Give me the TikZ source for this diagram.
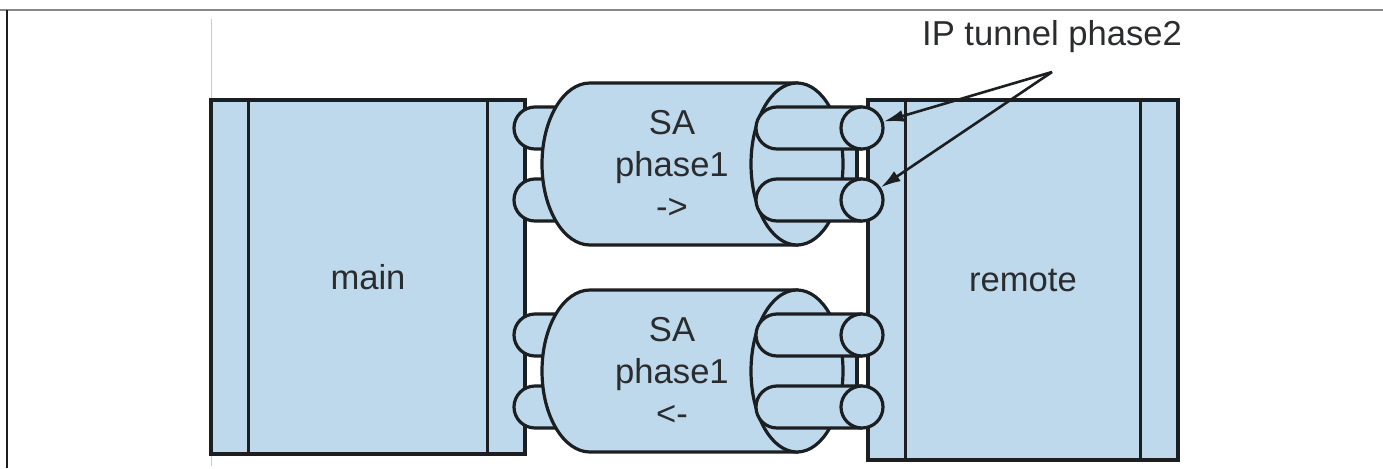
\documentclass[tikz,border=0pt]{standalone}
\usepackage{fontspec}
\setmainfont{Liberation Sans}
\usetikzlibrary{arrows.meta,positioning}
\definecolor{Ink}{HTML}{1B1F22}
\definecolor{Pale}{HTML}{BFD9EC}
\definecolor{Rule}{HTML}{888888}
\definecolor{Faint}{HTML}{CCCCCC}
\definecolor{Words}{HTML}{2A2C2E}
\tikzset{host/.style={draw=Ink,fill=Pale,line width=1.6pt,inner sep=0pt,text=Words,font=\fontsize{17.3}{21}\selectfont},shell/.style={draw=Ink,fill=Pale,line width=1.6pt},strip/.style={draw=Ink,line width=1.6pt},pipeend/.style={circle,draw=Ink,fill=Pale,line width=1.6pt,minimum size=21pt,inner sep=0pt},txt/.style={text=Words,font=\fontsize{17.3}{21}\selectfont,inner sep=1pt},frame/.style={draw=Rule,line width=1pt},guide/.style={draw=Faint,line width=.5pt},pointer/.style={-{Latex[length=10pt,width=6pt]},line width=1.3pt,draw=Ink}}
\begin{document}
\begin{tikzpicture}[x=0.5pt,y=0.5pt]
  \useasboundingbox (0,0) rectangle (1383,468);
  % page rules
  \draw[frame] (0,458) -- (1383,458);
  \draw[frame,draw=Ink] (7,458) -- (7,0);
  \draw[guide] (211,449) -- (211,2);
  % hosts
  \node[host,minimum width=157pt,minimum height=177pt](main) at (368,191){main};
  \node[host,minimum width=155pt,minimum height=180pt](remote) at (1023,188){remote};
  \draw[strip]([xshift=19.5pt]main.north west)--([xshift=19.5pt]main.south west);
  \draw[strip]([xshift=-19.5pt]main.north east)--([xshift=-19.5pt]main.south east);
  \draw[strip]([xshift=19.5pt]remote.north west)--([xshift=19.5pt]remote.south west);
  \draw[strip]([xshift=-19.5pt]remote.north east)--([xshift=-19.5pt]remote.south east);
  % SA tunnels with two IP pipes each
  \foreach \cy/\dir/\nm in {304/{->}/up,97/{<-}/dn}{
    \foreach \p in {36,-36}
      \filldraw[shell](600,\cy+\p+21)--(535,\cy+\p+21) arc[start angle=90,end angle=270,radius=21]--(600,\cy+\p-21);
    \filldraw[shell](797,\cy+81)--(590,\cy+81) arc[start angle=90,end angle=270,x radius=48,y radius=81]--(797,\cy-81)--cycle;
    \filldraw[shell](797,\cy-36) rectangle (857,\cy+36);
    \filldraw[shell](797,\cy) ellipse[x radius=46,y radius=81];
    \foreach \p in {36,-36}
      \filldraw[shell](862,\cy+\p+21)--(777,\cy+\p+21) arc[start angle=90,end angle=270,radius=21]--(862,\cy+\p-21);
    \node[pipeend](\nm1) at (862,\cy+36){};
    \node[pipeend](\nm2) at (862,\cy-36){};
    \node[txt,align=center](sa\nm) at (672,\cy){SA\\phase1\\\dir};
  }
  % callout
  \node[txt](tunnel) at (1052,431){IP tunnel phase2};
  \coordinate (fork) at (1052,396);
  \draw[pointer](fork)--(up1);
  \draw[pointer](fork)--(up2);
\end{tikzpicture}
\end{document}
